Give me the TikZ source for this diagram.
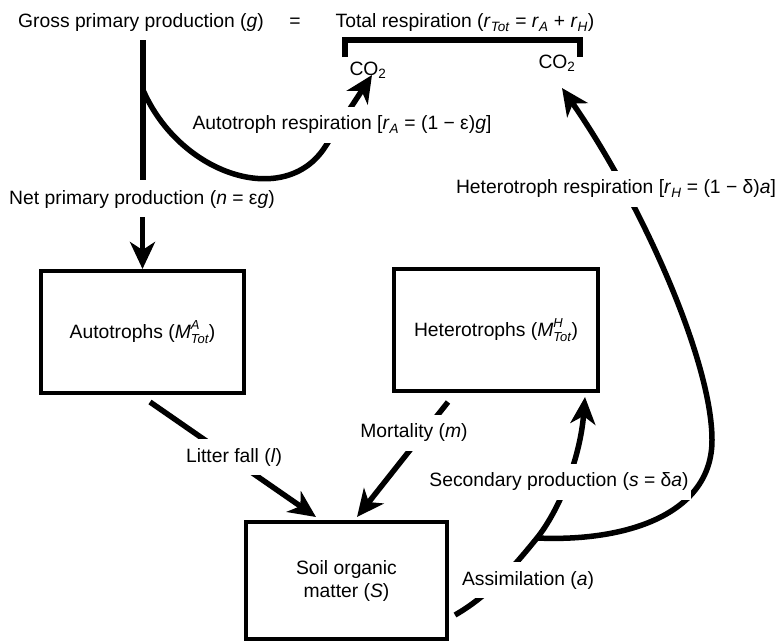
\documentclass[tikz,border=0pt]{standalone}
\usepackage{fontspec}
\setmainfont{Liberation Sans}
\usetikzlibrary{arrows.meta}
\newcommand{\ssub}[1]{\textsubscript{\textit{#1}}}
\newcommand{\Mtot}[1]{\textit{M}\rlap{\raisebox{0.5em}{\fontsize{13}{13}\selectfont\textit{#1}}}\raisebox{-0.25em}{\fontsize{13}{13}\selectfont\textit{Tot}}}

\tikzset{
	flow/.style={line width=5.5pt},
	flowarrow/.style={line width=5.5pt,-{Stealth[length=27pt,width=25pt,inset=8pt]}},
	pool/.style={draw,line width=4pt,align=center},
	lab/.style={fill=white,inner xsep=2pt,inner ysep=9pt}
}

\begin{document}
\begin{tikzpicture}[x=1pt,y=-1pt,font=\fontsize{19.3}{23}\selectfont]
		\useasboundingbox (0,0) rectangle (782,643);
		\node[pool,minimum width=203pt,minimum height=122pt] (auto) at (142.5,332) {Autotrophs (\Mtot{A})};
		\node[pool,minimum width=204pt,minimum height=122pt] (het) at (496,330) {Heterotrophs (\Mtot{H})};
		\node[pool,minimum width=201pt,minimum height=117pt] (soil) at (346.5,580.5) {Soil organic\\matter (\textit{S})};
		\node (gpp) at (141,23) {Gross primary production (\textit{g})};
		\node (eq) at (295,23) {=};
		\node (rtot) at (465,23) {Total respiration (\textit{r}\ssub{Tot} = \textit{r}\ssub{A} + \textit{r}\ssub{H})};
		\node (co2a) at (368,70) {CO\textsubscript{2}};
		\node (co2b) at (557,63) {CO\textsubscript{2}};
		\coordinate (brL) at (345,57);
		\coordinate (brR) at (580,57);
		\coordinate (gtop) at (143,40);
		\coordinate (gbot) at (143,180);
		\coordinate (asplit) at (143,90);
		\coordinate (aturn) at (325,147);
		\coordinate (atip) at (372,75);
		\coordinate (ntop) at (142.5,217);
		\coordinate (lstart) at (150,402);
		\coordinate (ltip) at (316,517);
		\coordinate (mstart) at (448,402);
		\coordinate (mtip) at (357,517);
		\coordinate (sstart) at (455,615);
		\coordinate (junc) at (537,538);
		\coordinate (stip) at (585,397);
		\coordinate (hturn) at (712,440);
		\coordinate (htip) at (562,88);
		\draw[flow] (brL) -- ++(0,-17) -| (brR);
		\draw[flow] (gtop) -- (gbot);
		\draw[flowarrow] (asplit) .. controls (180,175) and (285,209) .. (aturn) -- (atip);
		\draw[flowarrow] (ntop) -- (auto.north);
		\draw[flowarrow] (lstart) -- (ltip);
		\draw[flowarrow] (mstart) -- (mtip);
		\draw[flowarrow] (sstart) .. controls (490,595) and (515,565) .. (junc) .. controls (558,512) and (580,460) .. (stip);
		\draw[flowarrow] (junc) .. controls (625,542) and (712,515) .. (hturn) .. controls (712,360) and (640,200) .. (htip);
		\node (npp) at (142,200) {Net primary production (\textit{n} = ε\textit{g})};
		\node[lab] (arsp) at (342,125) {Autotroph respiration [\textit{r}\ssub{A} = (1 − ε)\textit{g}]};
		\node[lab] (hrsp) at (616,189) {Heterotroph respiration [\textit{r}\ssub{H} = (1 − δ)\textit{a}]};
		\node[lab] (litter) at (234,457) {Litter fall (\textit{l})};
		\node[lab] (mort) at (414,433) {Mortality (\textit{m})};
		\node[lab] (secp) at (559,482) {Secondary production (\textit{s} = δ\textit{a})};
		\node[lab] (assim) at (528,580) {Assimilation (\textit{a})};
	\end{tikzpicture}
\end{document}
